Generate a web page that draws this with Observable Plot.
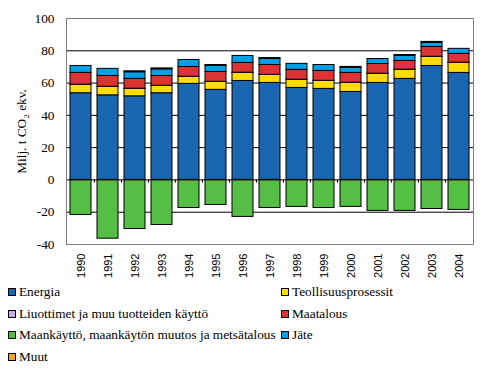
<!DOCTYPE html>
<html><head><meta charset="utf-8">
<script src="https://cdn.jsdelivr.net/npm/d3@7"></script>
<script src="https://cdn.jsdelivr.net/npm/@observablehq/plot@0.6"></script>
<style>
body{margin:0;background:#fff;font-family:'Liberation Serif',serif;}
#wrap{position:relative;width:502px;height:374px;overflow:hidden;}
#legend{display:grid;grid-template-columns:273px auto;margin-left:8px;}
.item{height:21.7px;display:flex;align-items:center;font-size:13.3px;font-family:'Liberation Serif',serif;color:#000;white-space:nowrap;}
.sw{width:6px;height:6px;border:1px solid #000;margin-right:3px;flex:none;}
</style></head>
<body><div id="wrap"><div id="chart"></div><div id="legend"></div></div>
<script>
const years = ["1990","1991","1992","1993","1994","1995","1996","1997","1998","1999","2000","2001","2002","2003","2004"];
const seriesNames = ["Energia","Teollisuusprosessit","Liuottimet ja muu tuotteiden käyttö","Maatalous","Maankäyttö, maankäytön muutos ja metsätalous","Jäte","Muut"];
const colors = ["#1a66b0","#ffdd00","#cca8f0","#dd3333","#55be44","#00a0e6","#f5a030"];
const energia      = [53.7,52.4,51.8,53.7,59.5,55.8,61.3,60.1,57.0,56.4,54.5,60.1,62.6,70.6,66.3];
const teollisuus   = [5.2,5.2,4.6,4.5,4.3,4.9,5.0,4.9,5.0,4.9,5.6,5.6,5.6,5.6,6.2];
const liuottimet   = [0.1,0.1,0.1,0.1,0.1,0.1,0.1,0.1,0.1,0.1,0.1,0.1,0.1,0.1,0.1];
const maatalous    = [7.3,6.7,6.1,6.1,6.1,6.1,6.1,6.1,6.1,6.1,6.1,6.0,5.4,6.1,5.5];
const maankaytto   = [-21.7,-36.4,-30.4,-27.9,-17.4,-15.5,-22.9,-17.4,-16.7,-17.4,-16.7,-19.2,-19.2,-18.0,-18.6];
const jate         = [4.3,4.4,4.1,4.1,4.3,3.7,4.3,3.7,3.7,3.7,3.1,3.1,3.1,2.5,3.1];
const muut         = [0,0,0.6,0.6,0,0.6,0,0.6,0,0,0.6,0,0.6,0.6,0];
const yTicks = [-40,-20,0,20,40,60,80,100];
const gridLines = [-20,20,40,60,80];
const yLabel = "Milj. t CO₂ ekv.";

const serif = "'Liberation Serif', serif";
const sans = "'Liberation Sans', sans-serif";

const seriesValues = [energia, teollisuus, liuottimet, maatalous, maankaytto, jate, muut];
const data = [];
seriesNames.forEach((s, i) => years.forEach((y, j) => data.push({year: y, series: s, value: seriesValues[i][j]})));

const chart = Plot.plot({
  width: 502, height: 281,
  marginLeft: 66, marginRight: 29, marginTop: 18, marginBottom: 37,
  style: {fontFamily: serif, background: "#fff"},
  x: {domain: years, paddingInner: 0.225, paddingOuter: 0.1125},
  y: {domain: [-40, 100]},
  color: {domain: seriesNames, range: colors},
  marks: [
    Plot.ruleY(gridLines, {stroke: "#000", strokeWidth: 1}),
    Plot.barY(data, {x: "year", y: "value", fill: "series", stroke: "#000", strokeWidth: 1, order: seriesNames}),
    Plot.ruleY([0], {stroke: "#000", strokeWidth: 1}),
    Plot.ruleX(years.slice(1), {x: d => d, y1: 0, y2: -2, dx: -13.57, stroke: "#000", strokeWidth: 1}),
    Plot.frame({stroke: "#808080", strokeWidth: 1}),
    Plot.axisY({ticks: yTicks, tickSize: 0, tickPadding: 12, tickFormat: d => String(d), fontSize: 13.3, fontFamily: serif,
      label: yLabel, labelAnchor: "center", labelArrow: "none", labelOffset: 50}),
    Plot.axisX({tickSize: 0, tickPadding: 9, tickRotate: -90, label: null,
      fontSize: 11, fontFamily: sans})
  ]
});
document.getElementById("chart").appendChild(chart);

const legend = document.getElementById("legend");
seriesNames.forEach((s, i) => {
  const it = document.createElement("div");
  it.className = "item";
  const sw = document.createElement("span");
  sw.className = "sw";
  sw.style.background = colors[i];
  it.appendChild(sw);
  it.appendChild(document.createTextNode(s));
  legend.appendChild(it);
});
</script></body></html>
